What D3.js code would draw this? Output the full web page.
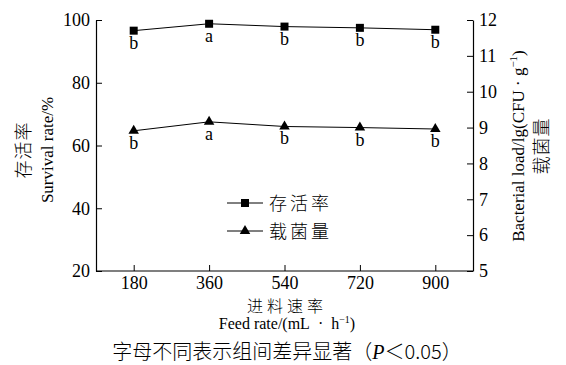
<!DOCTYPE html>
<html>
<head>
<meta charset="utf-8">
<script src="https://cdn.jsdelivr.net/npm/d3@7"></script>
<style>
  body { margin: 0; background: #fff; }
  svg { display: block; }
  text { fill: #000; }
</style>
</head>
<body>
<div id="chart"></div>
<script>
// data
const feedRates = ['180', '360', '540', '720', '900'];
const survival = [96.6, 98.8, 97.9, 97.5, 96.9];
const survivalSig = ['b', 'a', 'b', 'b', 'b'];
const bacterial = [8.91, 9.16, 9.03, 9.0, 8.96];
const bacterialSig = ['b', 'a', 'b', 'b', 'b'];
const leftTicks = [20, 40, 60, 80, 100];
const rightTicks = [5, 6, 7, 8, 9, 10, 11, 12];

const w = 566, h = 365;
const m = {left: 96, right: 93, top: 20, bottom: 94};
const serif = '"Liberation Serif", "Times New Roman", serif';
const cjk = '"Noto Sans CJK SC", sans-serif';
const nb = '\u00a0';

const svg = d3.select('#chart').append('svg')
  .attr('width', w)
  .attr('height', h);

const x = d3.scalePoint().domain(feedRates).range([m.left, w - m.right]).padding(0.5);
const yL = d3.scaleLinear().domain([20, 100]).range([h - m.bottom, m.top]);
const yR = d3.scaleLinear().domain([5, 12]).range([h - m.bottom, m.top]);

// axes
const gx = svg.append('g')
  .attr('transform', `translate(0,${h - m.bottom})`)
  .call(d3.axisBottom(x).tickSizeInner(-6).tickSizeOuter(0).tickPadding(5));
const gl = svg.append('g')
  .attr('transform', `translate(${m.left},0)`)
  .call(d3.axisLeft(yL).tickValues(leftTicks).tickSizeInner(-6).tickSizeOuter(0).tickPadding(6));
const gr = svg.append('g')
  .attr('transform', `translate(${w - m.right},0)`)
  .call(d3.axisRight(yR).tickValues(rightTicks).tickFormat(d3.format('d'))
    .tickSizeInner(-6).tickSizeOuter(0).tickPadding(6));

[gx, gl, gr].forEach(g => {
  g.select('.domain').attr('stroke', '#000').attr('stroke-width', 1.2);
  g.selectAll('.tick line').attr('stroke', '#000');
  g.selectAll('.tick text').attr('font-family', serif).attr('font-size', 18).attr('fill', '#000');
});
gx.select('.domain').attr('d', `M${m.left},0H${w - m.right}`);

// series
const line = d3.line().x((d, i) => x(feedRates[i]));

svg.append('path')
  .datum(survival)
  .attr('fill', 'none').attr('stroke', '#000').attr('stroke-width', 1)
  .attr('d', line.y(d => yL(d)));

svg.append('path')
  .datum(bacterial)
  .attr('fill', 'none').attr('stroke', '#000').attr('stroke-width', 1)
  .attr('d', line.y(d => yR(d)));

const sq = d3.symbol().type(d3.symbolSquare).size(64);
const tri = d3.symbol().type(d3.symbolTriangle).size(48);

svg.selectAll('.sq')
  .data(survival)
  .join('path')
  .attr('class', 'sq')
  .attr('d', sq)
  .attr('transform', (d, i) => `translate(${x(feedRates[i])},${yL(d)})`);

svg.selectAll('.tri')
  .data(bacterial)
  .join('path')
  .attr('class', 'tri')
  .attr('d', tri)
  .attr('transform', (d, i) => `translate(${x(feedRates[i])},${yR(d)})`);

// significance letters
svg.selectAll('.sigS')
  .data(survival)
  .join('text')
  .attr('x', (d, i) => x(feedRates[i]))
  .attr('y', d => yL(d) + 18)
  .attr('text-anchor', 'middle')
  .attr('font-family', serif).attr('font-size', 18)
  .text((d, i) => survivalSig[i]);

svg.selectAll('.sigB')
  .data(bacterial)
  .join('text')
  .attr('x', (d, i) => x(feedRates[i]))
  .attr('y', d => yR(d) + 18)
  .attr('text-anchor', 'middle')
  .attr('font-family', serif).attr('font-size', 18)
  .text((d, i) => bacterialSig[i]);

// legend
const legend = svg.append('g').attr('transform', 'translate(227,203)');
const items = [{name: '存活率', sym: sq}, {name: '载菌量', sym: tri}];
items.forEach((it, i) => {
  const g = legend.append('g').attr('transform', `translate(0,${i * 28})`);
  g.append('line').attr('x1', 0).attr('x2', 36).attr('stroke', '#000');
  g.append('path').attr('d', it.sym).attr('transform', 'translate(18,0)');
  g.append('text').attr('x', 42).attr('y', 7)
    .attr('font-family', cjk).attr('font-weight', 300).attr('font-size', 18)
    .attr('letter-spacing', 3).text(it.name);
});

// axis titles
svg.append('text')
  .attr('transform', 'translate(30,150) rotate(-90)')
  .attr('text-anchor', 'middle')
  .attr('font-family', cjk).attr('font-weight', 300).attr('font-size', 18)
  .attr('letter-spacing', 1)
  .text('存活率');
svg.append('text')
  .attr('transform', 'translate(53,150) rotate(-90)')
  .attr('text-anchor', 'middle')
  .attr('font-family', serif).attr('font-size', 17)
  .text('Survival rate/%');

const rt = svg.append('text')
  .attr('transform', 'translate(524,146) rotate(-90)')
  .attr('text-anchor', 'middle')
  .attr('font-family', serif).attr('font-size', 17);
rt.append('tspan').text(`Bacterial load/lg(CFU${nb}·${nb}g`);
rt.append('tspan').attr('dy', -7).attr('font-size', 11).text('−1');
rt.append('tspan').attr('dy', 7).text(')');
svg.append('text')
  .attr('transform', 'translate(548,146) rotate(-90)')
  .attr('text-anchor', 'middle')
  .attr('font-family', cjk).attr('font-weight', 300).attr('font-size', 18)
  .attr('letter-spacing', 1)
  .text('载菌量');

svg.append('text')
  .attr('x', 287).attr('y', 312)
  .attr('text-anchor', 'middle')
  .attr('font-family', cjk).attr('font-weight', 300).attr('font-size', 16)
  .attr('letter-spacing', 4)
  .text('进料速率');
const xt = svg.append('text')
  .attr('x', 287).attr('y', 329)
  .attr('text-anchor', 'middle')
  .attr('font-family', serif).attr('font-size', 16);
xt.append('tspan').text(`Feed rate/(mL${nb}${nb}·${nb}${nb}h`);
xt.append('tspan').attr('dy', -6).attr('font-size', 10).text('−1');
xt.append('tspan').attr('dy', 6).text(')');

// footnote
const fn = svg.append('text')
  .attr('x', 287).attr('y', 359)
  .attr('text-anchor', 'middle')
  .attr('font-family', cjk).attr('font-weight', 300).attr('font-size', 20);
fn.append('tspan').text('字母不同表示组间差异显著（');
fn.append('tspan').attr('font-family', serif).attr('font-style', 'italic').text('P');
fn.append('tspan').text('＜0.05）');
</script>
</body>
</html>
